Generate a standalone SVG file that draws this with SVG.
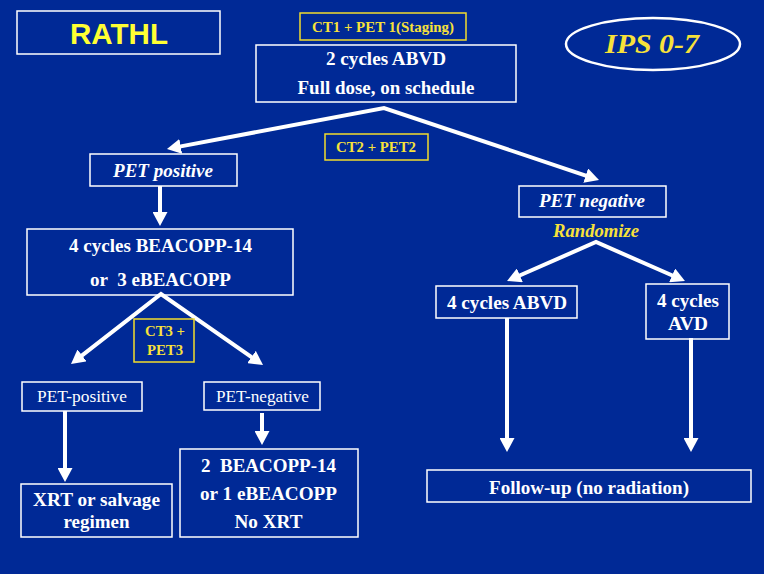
<svg xmlns="http://www.w3.org/2000/svg" width="764" height="574" viewBox="0 0 764 574">
<style>
.bx{fill:none;stroke:#fff;stroke-width:1.5}
.yb{fill:none;stroke:#F2DC2C;stroke-width:1.5}
.t{font-family:"Liberation Serif","Times New Roman",serif;font-weight:bold;fill:#fff;text-anchor:middle}
.r{font-family:"Liberation Serif","Times New Roman",serif;fill:#fff;text-anchor:middle}
.y{font-family:"Liberation Serif","Times New Roman",serif;font-weight:bold;fill:#F7E13A;text-anchor:middle}
.i{font-style:italic}
.c{fill:none;stroke:#fff;stroke-width:4;stroke-linejoin:miter}
</style>
<defs>
<marker id="ah" markerUnits="userSpaceOnUse" markerWidth="15" markerHeight="15" refX="4" refY="7.5" orient="auto-start-reverse">
<path d="M0,0 L14,7.5 L0,15 z" fill="#fff"/>
</marker>
</defs>
<rect width="764" height="574" fill="#002996"/>

<g id="connectors">
<path class="c" d="M176.8,147.1 L384,108 L589.5,176.8" marker-start="url(#ah)" marker-end="url(#ah)"/>
<path class="c" d="M78.9,357.9 L161,294 L254.8,359.3" marker-start="url(#ah)" marker-end="url(#ah)"/>
<path class="c" d="M516.2,277 L596,242 L675.8,277" marker-start="url(#ah)" marker-end="url(#ah)"/>
<path class="c" d="M160,186 V216" marker-end="url(#ah)"/>
<path class="c" d="M65,411 V472" marker-end="url(#ah)"/>
<path class="c" d="M262,413 V435" marker-end="url(#ah)"/>
<path class="c" d="M507,318 V442" marker-end="url(#ah)"/>
<path class="c" d="M691,338 V442" marker-end="url(#ah)"/>
</g>

<g id="rathl">
<rect class="bx" x="17" y="11" width="203" height="43"/>
<text x="119" y="44" font-family="'Liberation Sans',Arial,sans-serif" font-weight="bold" font-size="30" fill="#FFFF33" text-anchor="middle" textLength="98" lengthAdjust="spacingAndGlyphs">RATHL</text>
</g>

<g id="ct1">
<rect class="yb" x="300" y="13" width="166" height="27"/>
<text class="y" x="383" y="32" font-size="15" textLength="142" lengthAdjust="spacingAndGlyphs">CT1 + PET 1(Staging)</text>
</g>

<g id="ips">
<ellipse cx="653" cy="44" rx="87" ry="26" fill="none" stroke="#fff" stroke-width="2.5"/>
<text class="y i" x="652" y="53" font-size="28" textLength="94" lengthAdjust="spacingAndGlyphs">IPS 0-7</text>
</g>

<g id="abvd2">
<rect class="bx" x="256" y="45" width="260" height="57"/>
<text class="t" x="386" y="65" font-size="18" textLength="120" lengthAdjust="spacingAndGlyphs">2 cycles ABVD</text>
<text class="t" x="386" y="94" font-size="18" textLength="177" lengthAdjust="spacingAndGlyphs">Full dose, on schedule</text>
</g>

<g id="ct2">
<rect class="yb" x="325" y="134" width="103" height="26"/>
<text class="y" x="376" y="152" font-size="14" textLength="80" lengthAdjust="spacingAndGlyphs">CT2 + PET2</text>
</g>

<g id="petpos">
<rect class="bx" x="90" y="154" width="147" height="32"/>
<text class="t i" x="163" y="177" font-size="18" textLength="100" lengthAdjust="spacingAndGlyphs">PET positive</text>
</g>

<g id="beacopp4">
<rect class="bx" x="27" y="229" width="266" height="66"/>
<text class="t" x="160.5" y="252" font-size="18" textLength="183" lengthAdjust="spacingAndGlyphs">4 cycles BEACOPP-14</text>
<text class="t" x="160.5" y="286" font-size="18" textLength="141" lengthAdjust="spacingAndGlyphs" xml:space="preserve">or  3 eBEACOPP</text>
</g>

<g id="ct3">
<rect class="yb" x="134" y="319" width="60" height="43"/>
<text class="y" x="165" y="336" font-size="14" textLength="40" lengthAdjust="spacingAndGlyphs">CT3 +</text>
<text class="y" x="165" y="355" font-size="14" textLength="36" lengthAdjust="spacingAndGlyphs">PET3</text>
</g>

<g id="pet-positive">
<rect class="bx" x="22" y="382" width="120" height="29"/>
<text class="r" x="82" y="402" font-size="16" textLength="90" lengthAdjust="spacingAndGlyphs">PET-positive</text>
</g>

<g id="pet-negative">
<rect class="bx" x="204" y="382" width="116" height="28"/>
<text class="r" x="262.5" y="402" font-size="16" textLength="93" lengthAdjust="spacingAndGlyphs">PET-negative</text>
</g>

<g id="xrt">
<rect class="bx" x="21" y="484" width="151" height="53"/>
<text class="t" x="96.5" y="506" font-size="18" textLength="127" lengthAdjust="spacingAndGlyphs">XRT or salvage</text>
<text class="t" x="96.5" y="528" font-size="18" textLength="66" lengthAdjust="spacingAndGlyphs">regimen</text>
</g>

<g id="beacopp2">
<rect class="bx" x="180" y="449" width="178" height="88"/>
<text class="t" x="268.5" y="472" font-size="18" textLength="135" lengthAdjust="spacingAndGlyphs" xml:space="preserve">2  BEACOPP-14</text>
<text class="t" x="268.5" y="500" font-size="18" textLength="137" lengthAdjust="spacingAndGlyphs">or 1 eBEACOPP</text>
<text class="t" x="268.5" y="528" font-size="18" textLength="68" lengthAdjust="spacingAndGlyphs">No XRT</text>
</g>

<g id="petneg">
<rect class="bx" x="519" y="186" width="147" height="31"/>
<text class="t i" x="592" y="207" font-size="18" textLength="106" lengthAdjust="spacingAndGlyphs">PET negative</text>
<text class="y i" x="596" y="237" font-size="18" textLength="86" lengthAdjust="spacingAndGlyphs">Randomize</text>
</g>

<g id="abvd4">
<rect class="bx" x="436" y="286" width="141" height="32"/>
<text class="t" x="507" y="309" font-size="18" textLength="120" lengthAdjust="spacingAndGlyphs">4 cycles ABVD</text>
</g>

<g id="avd4">
<rect class="bx" x="646" y="284" width="83" height="55"/>
<text class="t" x="688" y="307" font-size="18" textLength="62" lengthAdjust="spacingAndGlyphs">4 cycles</text>
<text class="t" x="688" y="330" font-size="18" textLength="40" lengthAdjust="spacingAndGlyphs">AVD</text>
</g>

<g id="followup">
<rect class="bx" x="427" y="470" width="324" height="32"/>
<text class="t" x="589" y="494" font-size="18" textLength="200" lengthAdjust="spacingAndGlyphs">Follow-up (no radiation)</text>
</g>
</svg>
